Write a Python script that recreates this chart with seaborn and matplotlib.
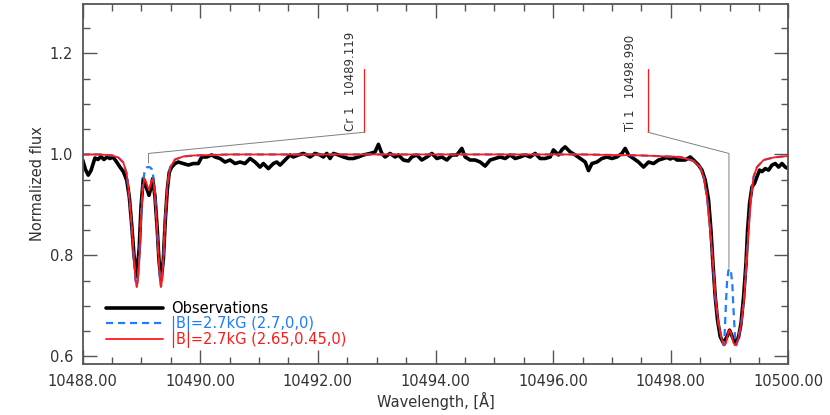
import numpy as np
import pandas as pd
import matplotlib
matplotlib.use("Agg")
import matplotlib.pyplot as plt
from matplotlib.ticker import MultipleLocator, FormatStrFormatter
import seaborn as sns

obs_wave = [
    10488.000, 10488.048, 10488.095, 10488.141, 10488.209, 10488.260, 10488.311, 10488.362,
    10488.413, 10488.464, 10488.515, 10488.578, 10488.635, 10488.691, 10488.749, 10488.793,
    10488.834, 10488.873, 10488.919, 10488.963, 10488.992, 10489.031, 10489.089, 10489.128,
    10489.162, 10489.191, 10489.230, 10489.269, 10489.298, 10489.332, 10489.371, 10489.405,
    10489.439, 10489.473, 10489.514, 10489.570, 10489.626, 10489.711, 10489.797, 10489.882,
    10489.967, 10490.025, 10490.110, 10490.195, 10490.251, 10490.336, 10490.421, 10490.506,
    10490.591, 10490.676, 10490.761, 10490.846, 10490.931, 10491.016, 10491.073, 10491.158,
    10491.243, 10491.301, 10491.357, 10491.442, 10491.527, 10491.583, 10491.668, 10491.753,
    10491.811, 10491.867, 10491.952, 10492.037, 10492.093, 10492.151, 10492.207, 10492.264,
    10492.349, 10492.434, 10492.519, 10492.604, 10492.689, 10492.774, 10492.888, 10492.973,
    10493.029, 10493.087, 10493.143, 10493.228, 10493.313, 10493.369, 10493.454, 10493.539,
    10493.597, 10493.682, 10493.767, 10493.853, 10493.938, 10494.023, 10494.108, 10494.193,
    10494.278, 10494.363, 10494.448, 10494.504, 10494.589, 10494.674, 10494.759, 10494.844,
    10494.929, 10495.014, 10495.100, 10495.185, 10495.270, 10495.355, 10495.440, 10495.525,
    10495.610, 10495.695, 10495.780, 10495.865, 10495.950, 10496.006, 10496.091, 10496.154,
    10496.205, 10496.290, 10496.376, 10496.461, 10496.546, 10496.602, 10496.660, 10496.745,
    10496.830, 10496.915, 10497.000, 10497.085, 10497.170, 10497.226, 10497.282, 10497.367,
    10497.452, 10497.538, 10497.623, 10497.708, 10497.793, 10497.878, 10497.936, 10497.992,
    10498.048, 10498.106, 10498.162, 10498.247, 10498.332, 10498.388, 10498.473, 10498.531,
    10498.587, 10498.643, 10498.684, 10498.718, 10498.757, 10498.796, 10498.842, 10498.899,
    10498.956, 10499.001, 10499.047, 10499.098, 10499.154, 10499.195, 10499.239, 10499.280,
    10499.307, 10499.341, 10499.382, 10499.426, 10499.467, 10499.511, 10499.552, 10499.608,
    10499.664, 10499.722, 10499.778, 10499.834, 10499.892, 10499.948, 10500.000,
]
obs_flux = [
    0.989, 0.970, 0.959, 0.968, 0.993, 0.990, 0.996, 0.990,
    0.995, 0.992, 0.995, 0.985, 0.975, 0.966, 0.949, 0.916,
    0.860, 0.800, 0.758, 0.817, 0.896, 0.952, 0.933, 0.919,
    0.935, 0.952, 0.916, 0.850, 0.790, 0.751, 0.790, 0.870,
    0.930, 0.965, 0.975, 0.982, 0.985, 0.982, 0.979, 0.982,
    0.982, 0.995, 0.995, 0.999, 0.995, 0.992, 0.985, 0.989,
    0.982, 0.985, 0.982, 0.992, 0.985, 0.975, 0.982, 0.972,
    0.982, 0.985, 0.979, 0.989, 0.999, 0.995, 0.999, 1.002,
    0.999, 0.995, 1.002, 0.999, 0.995, 1.002, 0.992, 1.002,
    0.999, 0.995, 0.992, 0.992, 0.995, 0.999, 1.002, 1.005,
    1.020, 1.002, 0.995, 1.002, 0.995, 0.999, 0.989, 0.987,
    0.995, 0.999, 0.989, 0.995, 1.002, 0.992, 0.995, 0.989,
    0.999, 0.999, 1.012, 0.995, 0.989, 0.989, 0.985, 0.977,
    0.989, 0.992, 0.995, 0.992, 0.999, 0.992, 0.995, 0.999,
    0.995, 1.002, 0.992, 0.992, 0.995, 1.009, 0.999, 1.010,
    1.015, 1.005, 0.999, 0.992, 0.985, 0.968, 0.982, 0.985,
    0.992, 0.995, 0.992, 0.995, 1.002, 1.012, 0.999, 0.992,
    0.985, 0.975, 0.985, 0.982, 0.989, 0.992, 0.994, 0.991,
    0.994, 0.989, 0.989, 0.989, 0.995, 0.989, 0.979, 0.969,
    0.949, 0.910, 0.850, 0.784, 0.718, 0.672, 0.639, 0.626,
    0.639, 0.652, 0.639, 0.626, 0.639, 0.665, 0.718, 0.784,
    0.850, 0.903, 0.936, 0.943, 0.956, 0.969, 0.966, 0.972,
    0.969, 0.979, 0.982, 0.975, 0.982, 0.975, 0.972,
]

# synthetic spectra
model_wave = [
    10488.000, 10488.300, 10488.500, 10488.606, 10488.691, 10488.749, 10488.793, 10488.834,
    10488.873, 10488.900, 10488.919, 10488.940, 10488.963, 10488.992, 10489.021, 10489.048,
    10489.070, 10489.100, 10489.128, 10489.150, 10489.175, 10489.191, 10489.215, 10489.240,
    10489.270, 10489.298, 10489.315, 10489.332, 10489.350, 10489.371, 10489.405, 10489.439,
    10489.485, 10489.570, 10489.711, 10489.900, 10490.500, 10496.500, 10497.500, 10498.162,
    10498.388, 10498.502, 10498.558, 10498.616, 10498.672, 10498.718, 10498.757, 10498.813,
    10498.871, 10498.899, 10498.915, 10498.939, 10498.956, 10498.980, 10499.001, 10499.022,
    10499.047, 10499.064, 10499.093, 10499.115, 10499.143, 10499.199, 10499.251, 10499.285,
    10499.324, 10499.365, 10499.409, 10499.467, 10499.579, 10499.749, 10500.000,
]
red_flux = [
    1.000, 1.000, 0.998, 0.994, 0.984, 0.962, 0.916, 0.857,
    0.790, 0.750, 0.738, 0.752, 0.795, 0.876, 0.929, 0.952,
    0.948, 0.938, 0.929, 0.938, 0.948, 0.952, 0.938, 0.900,
    0.840, 0.784, 0.752, 0.738, 0.752, 0.790, 0.876, 0.936,
    0.974, 0.990, 0.996, 0.998, 1.000, 1.000, 0.998, 0.995,
    0.987, 0.975, 0.956, 0.916, 0.850, 0.784, 0.718, 0.665,
    0.632, 0.624, 0.622, 0.626, 0.636, 0.648, 0.652, 0.648,
    0.636, 0.628, 0.622, 0.625, 0.632, 0.665, 0.718, 0.784,
    0.850, 0.916, 0.956, 0.975, 0.989, 0.994, 0.997,
]
blue_flux = [
    1.000, 1.000, 0.998, 0.994, 0.984, 0.962, 0.916, 0.857,
    0.790, 0.750, 0.738, 0.752, 0.795, 0.880, 0.937, 0.963,
    0.972, 0.975, 0.975, 0.974, 0.971, 0.963, 0.945, 0.903,
    0.840, 0.784, 0.752, 0.738, 0.752, 0.790, 0.876, 0.936,
    0.974, 0.990, 0.996, 0.998, 1.000, 1.000, 0.998, 0.995,
    0.987, 0.975, 0.956, 0.916, 0.850, 0.784, 0.718, 0.665,
    0.634, 0.622, 0.640, 0.705, 0.745, 0.770, 0.774, 0.770,
    0.745, 0.700, 0.640, 0.622, 0.632, 0.665, 0.718, 0.784,
    0.850, 0.916, 0.956, 0.975, 0.989, 0.994, 0.997,
]

labels = ["Observations", "|B|=2.7kG (2.7,0,0)", "|B|=2.7kG (2.65,0.45,0)"]

# line identifications
line_names = ["Cr 1", "Ti 1"]
line_waves = [10489.119, 10498.990]
line_label_x = [10492.55, 10497.32]
line_tick_x = [10492.79, 10497.61]
line_drop = [0.983, 0.775]

BLUE = "#1f7bff"
RED = "#ff1a1a"
AXC = "#555555"
TXC = "#333333"

sns.set_style("ticks")
plt.rcParams["font.family"] = ["DejaVu Sans"]
plt.rcParams["font.size"] = 10.5

fig = plt.figure(figsize=(8.3, 4.15), dpi=100)
ax = fig.add_axes([0.0996, 0.1229, 0.8502, 0.8675])

obs = pd.DataFrame({"wave": obs_wave, "flux": obs_flux})
mod = pd.DataFrame({"wave": model_wave, "red": red_flux, "blue": blue_flux})

sns.lineplot(data=obs, x="wave", y="flux", color="black", lw=2.6,
             estimator=None, ax=ax, label=labels[0])
sns.lineplot(data=mod, x="wave", y="blue", color=BLUE, lw=1.6,
             linestyle=(0, (3.2, 2.2)), estimator=None, ax=ax, label=labels[1])
sns.lineplot(data=mod, x="wave", y="red", color=RED, lw=1.3,
             estimator=None, ax=ax, label=labels[2])

# line id markers
for name, w, lx, tx, yd in zip(line_names, line_waves, line_label_x, line_tick_x, line_drop):
    ax.plot([tx, tx], [1.169, 1.044], color=RED, lw=0.9)
    ax.plot([tx, w, w], [1.044, 1.002, yd], color="#808080", lw=0.7)
    ax.text(lx, 1.046, f"{name}   {w:.3f}", rotation=90, ha="center",
            va="bottom", fontsize=8.5, color=TXC)

ax.set_xlim(10488, 10500)
ax.set_ylim(0.585, 1.298)
ax.xaxis.set_major_locator(MultipleLocator(2))
ax.xaxis.set_minor_locator(MultipleLocator(0.5))
ax.yaxis.set_major_locator(MultipleLocator(0.2))
ax.yaxis.set_minor_locator(MultipleLocator(0.05))
ax.xaxis.set_major_formatter(FormatStrFormatter("%.2f"))
ax.yaxis.set_major_formatter(FormatStrFormatter("%.1f"))
ax.tick_params(which="both", direction="in", top=True, right=True,
               color=AXC, labelcolor=TXC, width=1.0, labelsize=10.5)
ax.tick_params(which="major", length=10, pad=7)
ax.tick_params(which="minor", length=5)
for sp in ax.spines.values():
    sp.set_visible(True)
    sp.set_color(AXC)
    sp.set_linewidth(1.3)

ax.set_xlabel("Wavelength, [Å]", color=TXC, fontsize=10.5, labelpad=2)
ax.set_ylabel("Normalized flux", color=TXC, fontsize=10.5, labelpad=3)

leg = ax.legend(loc="lower left", bbox_to_anchor=(0.033, 0.045), frameon=False,
                handlelength=3.9, handletextpad=0.55, labelspacing=0.0,
                borderpad=0, borderaxespad=0,
                labelcolor=["black", BLUE, RED], fontsize=10.5)

fig.savefig("out.png", dpi=100)
